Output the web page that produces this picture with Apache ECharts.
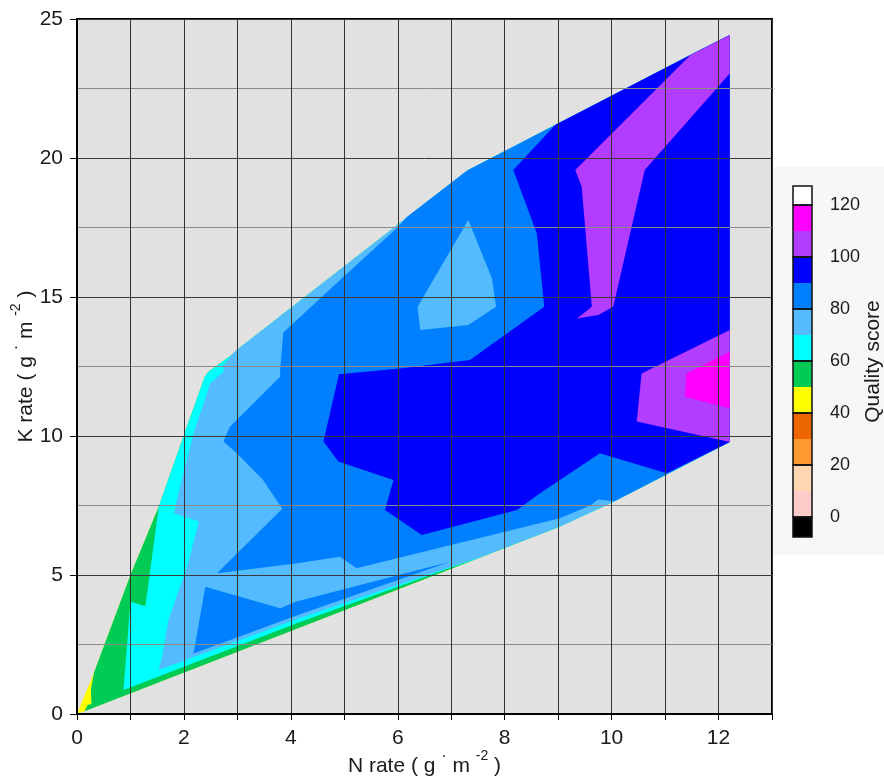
<!DOCTYPE html>
<html>
<head>
<meta charset="utf-8">
<script src="https://cdn.jsdelivr.net/npm/echarts@6/dist/echarts.min.js"></script>
<style>
  html, body { margin: 0; padding: 0; background: #fff; }
  #chart { width: 884px; height: 779px; }
</style>
</head>
<body>
<div id="chart"></div>
<script>
// contour regions, each polygon is the area where score >= level (N rate, K rate)
const hull40 = [[0,0],[0.3,1.4],[1.0,5.0],[1.53,7.46],[1.99,9.97],[2.39,12.13],[2.46,12.31],[2.89,12.91],[2.99,13.09],[7.3,19.55],[11.5,23.73],[12.21,24.42],[12.21,9.78],[10.0,7.6],[9.0,6.72]];
const green50 = [[0.14,0.1],[0.2,0.32],[0.27,0.36],[0.26,0.9],[0.32,1.5],[1.0,5.0],[1.53,7.46],[1.99,9.97],[2.39,12.13],[2.46,12.31],[2.89,12.91],[2.99,13.09],[7.3,19.55],[11.5,23.73],[12.21,24.42],[12.21,9.78],[10.0,7.6],[9.0,6.72]];
const cyan60 = [[0.87,0.86],[1.0,4.04],[1.28,3.88],[1.53,7.46],[1.99,9.97],[2.39,12.13],[2.46,12.31],[2.89,12.91],[2.99,13.09],[7.3,19.55],[11.5,23.73],[12.21,24.42],[12.21,9.78],[10.0,7.6],[9.0,6.72],[7.4,5.53],[7.0,5.27],[4.12,3.27]];
const lightBlue70 = [[1.53,1.58],[1.59,2.06],[1.71,3.38],[2.06,5.3],[2.28,6.92],[1.81,7.22],[1.99,8.66],[2.18,10.1],[2.43,11.53],[2.49,11.9],[2.74,12.31],[2.74,12.55],[2.89,12.91],[2.99,13.09],[7.3,19.55],[11.5,23.73],[12.21,24.42],[12.21,9.78],[10.0,7.6],[9.0,6.72],[7.6,5.68],[7.2,5.42],[4.12,3.42]];
const medium80 = [[6.17,17.88],[5.98,17.47],[4.92,15.61],[3.86,13.72],[3.8,12.37],[3.8,12.13],[2.86,10.33],[2.74,9.8],[2.99,9.38],[3.48,8.42],[3.84,7.38],[2.62,5.06],[4.12,5.42],[4.92,5.66],[5.23,5.24],[9.03,7.04],[9.6,7.5],[9.75,7.72],[10.05,7.65],[12.21,9.78],[12.21,24.42],[11.5,23.73],[7.3,19.55]];
const medium80Finger = [[2.18,2.18],[2.4,4.58],[3.8,3.8],[4.12,4.06],[6.98,5.48],[4.12,3.55]];
const lightBlue70Island = [[7.32,17.77],[7.76,15.67],[7.84,14.65],[7.32,13.99],[6.42,13.81],[6.37,14.65]];
const dark90 = [[8.95,21.2],[8.16,19.57],[8.6,17.29],[8.74,14.65],[7.35,12.73],[6.04,12.43],[4.9,12.22],[4.61,9.8],[4.89,9.08],[5.92,8.42],[5.76,7.34],[6.45,6.44],[8.23,7.34],[8.66,7.94],[9.78,9.38],[11.03,8.66],[12.21,9.78],[12.21,24.42],[11.5,23.73]];
const purple100Top = [[11.47,23.7],[9.32,19.57],[9.44,18.97],[9.63,14.65],[9.35,14.23],[9.75,14.35],[10.03,14.65],[10.62,19.57],[12.21,23.04],[12.21,24.42]];
const purple100Low = [[12.21,13.81],[10.56,12.25],[10.47,10.52],[12.21,9.78]];
const magenta110 = [[12.21,13.03],[11.4,12.25],[11.37,11.41],[12.21,11.0]];

// colour scale (score bands of 10)
const bandEdges = [-7.7, 0, 10, 20, 30, 40, 50, 60, 70, 80, 90, 100, 110, 120, 127.3];
const bandColors = ['#000000','#ffcaca','#ffd8b2','#ff9a33','#ee6600','#ffff00','#00cc55','#00ffff','#55bbff','#0080ff','#0000ff','#b23cff','#ff00ff','#ffffff'];
const boxEdges = [-7.7, 0, 20, 40, 60, 80, 100, 120, 127.3];
const scoreLabels = [0, 20, 40, 60, 80, 100, 120];
const xLabels = [0, 2, 4, 6, 8, 10, 12];
const yLabels = [0, 5, 10, 15, 20, 25];

const regions = [
  { pts: hull40, color: bandColors[5] },
  { pts: green50, color: bandColors[6] },
  { pts: cyan60, color: bandColors[7] },
  { pts: lightBlue70, color: bandColors[8] },
  { pts: medium80, color: bandColors[9] },
  { pts: medium80Finger, color: bandColors[9] },
  { pts: lightBlue70Island, color: bandColors[8] },
  { pts: dark90, color: bandColors[10] },
  { pts: purple100Top, color: bandColors[11] },
  { pts: purple100Low, color: bandColors[11] },
  { pts: magenta110, color: bandColors[12] }
];

const font = "'Liberation Sans', Arial, sans-serif";
const txt = '#1a1a1a';
const unitRich = {
  a: { fontFamily: font, fontSize: 21, color: txt, lineHeight: 28, verticalAlign: 'bottom' },
  d: { fontFamily: font, fontSize: 16, color: txt, lineHeight: 28, verticalAlign: 'top' },
  s: { fontFamily: font, fontSize: 14, color: txt, lineHeight: 28, verticalAlign: 'top' }
};

const chart = echarts.init(document.getElementById('chart'));
chart.setOption({
  animation: false,
  graphic: [{
    type: 'rect', left: 773, top: 167, z: -10, silent: true,
    shape: { width: 111, height: 388 },
    style: { fill: '#f7f7f7' }
  }],
  grid: [
    { left: 77, top: 19, width: 695, height: 695, outerBoundsMode: 'none', containLabel: false,
      show: true, backgroundColor: '#e1e1e1', borderColor: '#000', borderWidth: 2 },
    { left: 793, top: 186, width: 19, height: 351, outerBoundsMode: 'none', containLabel: false }
  ],
  xAxis: [{
    gridIndex: 0, type: 'value', min: 0, max: 13, interval: 1, z: 3,
    name: '{a|N rate ( g }{d|·}{a| m }{s|-2}{a| )}',
    nameLocation: 'middle', nameGap: 35, nameMoveOverlap: false,
    nameTextStyle: { rich: unitRich },
    axisLine: { lineStyle: { color: '#000', width: 2 } },
    axisTick: { show: true, length: 6, lineStyle: { color: '#000', width: 1 } },
    axisLabel: { customValues: xLabels, fontFamily: font, fontSize: 21, color: txt, margin: 14 },
    splitLine: { show: true, lineStyle: { color: '#333', width: 1 } }
  }, {
    gridIndex: 1, type: 'value', min: 0, max: 1, show: false
  }],
  yAxis: [{
    gridIndex: 0, type: 'value', min: 0, max: 25, interval: 5, z: 3,
    name: '{a|K rate ( g }{d|·}{a| m }{s|-2}{a| )}',
    nameLocation: 'middle', nameGap: 40, nameRotate: 90, nameMoveOverlap: false,
    nameTextStyle: { rich: unitRich },
    axisLine: { show: true, lineStyle: { color: '#000', width: 2 } },
    axisTick: { show: true, length: 7, lineStyle: { color: '#000', width: 1 } },
    axisLabel: { customValues: yLabels, fontFamily: font, fontSize: 21, color: txt, margin: 14 },
    minorTick: { show: false, splitNumber: 2 },
    splitLine: { show: true, lineStyle: { color: '#3a3a3a', width: 1 } },
    minorSplitLine: { show: true, lineStyle: { color: '#8a8a8a', width: 1 } }
  }, {
    gridIndex: 1, type: 'value', min: -7.7, max: 127.3, position: 'right',
    name: 'Quality score', nameLocation: 'middle', nameGap: 51, nameRotate: 90, nameMoveOverlap: false,
    nameTextStyle: { fontFamily: font, fontSize: 21, color: txt },
    axisLine: { show: false },
    axisTick: { show: false },
    splitLine: { show: false },
    axisLabel: { customValues: scoreLabels, fontFamily: font, fontSize: 18, color: txt, margin: 18 }
  }],
  series: [{
    type: 'custom', xAxisIndex: 0, yAxisIndex: 0, z: 2, silent: true,
    data: regions.map(r => r.pts[0]),
    renderItem: (params, api) => {
      const r = regions[params.dataIndex];
      return {
        type: 'polygon', z2: params.dataIndex,
        shape: { points: r.pts.map(p => api.coord(p)) },
        style: { fill: r.color }
      };
    }
  }, {
    type: 'custom', xAxisIndex: 1, yAxisIndex: 1, z: 2, silent: true,
    data: bandColors.map((c, i) => [0, bandEdges[i]]),
    renderItem: (params, api) => {
      const i = params.dataIndex;
      const p0 = api.coord([0, bandEdges[i]]);
      const p1 = api.coord([1, bandEdges[i + 1]]);
      return {
        type: 'rect',
        shape: { x: p0[0], y: p1[1], width: p1[0] - p0[0], height: p0[1] - p1[1] },
        style: { fill: bandColors[i] }
      };
    }
  }, {
    type: 'custom', xAxisIndex: 1, yAxisIndex: 1, z: 3, silent: true,
    data: boxEdges.slice(0, -1).map(v => [0, v]),
    renderItem: (params, api) => {
      const i = params.dataIndex;
      const p0 = api.coord([0, boxEdges[i]]);
      const p1 = api.coord([1, boxEdges[i + 1]]);
      return {
        type: 'rect',
        shape: { x: p0[0], y: p1[1], width: p1[0] - p0[0], height: p0[1] - p1[1] },
        style: { fill: 'none', stroke: '#111', lineWidth: 1.5 }
      };
    }
  }]
});
</script>
</body>
</html>
